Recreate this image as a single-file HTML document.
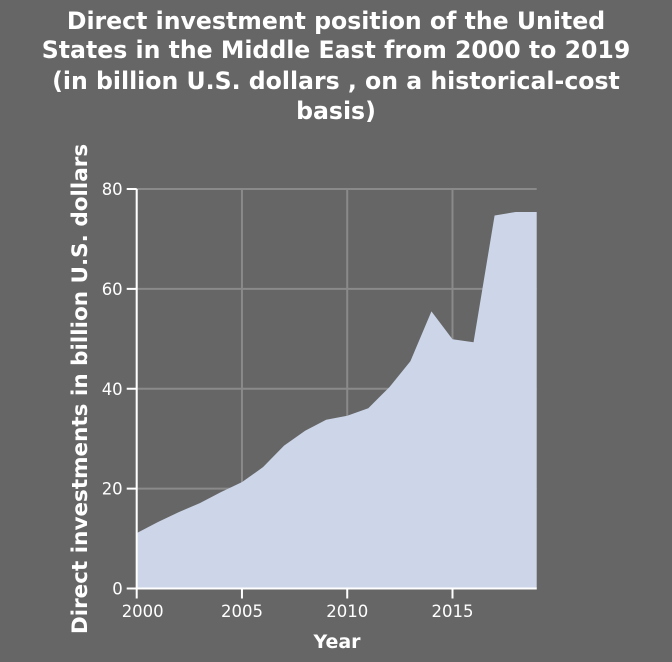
<!DOCTYPE html>
<html><head><meta charset="utf-8"><style>
body{margin:0;background:#666666;}
svg{display:block;font-family:"DejaVu Sans","Liberation Sans",sans-serif;}
</style></head><body>
<svg id="chart" width="672" height="662">
<rect width="672" height="662" fill="#666666"/>
<g fill="#ffffff" font-weight="bold" font-size="23.6" text-anchor="middle">
<text x="336" y="29">Direct investment position of the United</text>
<text x="336" y="58">States in the Middle East from 2000 to 2019</text>
<text x="336" y="89">(in billion U.S. dollars , on a historical-cost</text>
<text x="336" y="119">basis)</text>
</g>
<g id="grid"></g>
<path id="area" fill="#ccd6e8"/>
<g id="axes"></g>
<text x="337" y="648" fill="#ffffff" font-weight="bold" font-size="19" text-anchor="middle">Year</text>
<text transform="translate(87,389) rotate(-90)" fill="#ffffff" font-weight="bold" font-size="21.5" text-anchor="middle">Direct investments in billion U.S. dollars</text>
</svg>
<script>
const years=[2000,2001,2002,2003,2004,2005,2006,2007,2008,2009,2010,2011,2012,2013,2014,2015,2016,2017,2018,2019];
const values=[11.1,13.3,15.3,17.1,19.3,21.3,24.3,28.6,31.6,33.8,34.6,36.1,40.3,45.5,55.5,49.9,49.3,74.7,75.4,75.4];
const xTicks=[2000,2005,2010,2015];
const yTicks=[0,20,40,60,80];
const NS="http://www.w3.org/2000/svg";
const X0=136.7,X1=536.7,Y0=588.5,Y1=189;
const xs=v=>X0+(v-2000)/19*(X1-X0);
const ys=v=>Y0-v/80*(Y0-Y1);
function mk(t,a,p){const e=document.createElementNS(NS,t);for(const k in a)e.setAttribute(k,a[k]);p.appendChild(e);return e;}
const grid=document.getElementById('grid'),axes=document.getElementById('axes');
for(const t of xTicks){
 const l=mk('line',{x1:xs(t),x2:xs(t),y1:Y1,y2:Y0,stroke:'#8a8a8a','stroke-width':2},grid);
 
 
 const tk=mk('line',{x1:xs(t),x2:xs(t),y1:Y0,y2:Y0+10,stroke:'#fff','stroke-width':2},axes);
 
 
 const tx=mk('text',{x:xs(t)+(t==2000?6:0),y:617,fill:'#fff','font-size':16.5,'text-anchor':'middle'},axes);
 tx.textContent=t;
 
 
}
for(const t of yTicks){
 const l=mk('line',{x1:X0,x2:X1,y1:ys(t),y2:ys(t),stroke:'#8a8a8a','stroke-width':2},grid);
 
 
 const tk=mk('line',{x1:X0-10,x2:X0,y1:ys(t),y2:ys(t),stroke:'#fff','stroke-width':2},axes);
 
 
 const tx=mk('text',{x:X0-14,y:ys(t)+6,fill:'#fff','font-size':16.5,'text-anchor':'end'},axes);
 tx.textContent=t;
 
 
}
let d='M'+xs(years[0])+','+ys(0);
years.forEach((y,i)=>{d+=' L'+xs(y)+','+ys(values[i]);});
d+=' L'+xs(years[years.length-1])+','+ys(0)+' Z';
document.getElementById('area').setAttribute('d',d);
const ya=mk('line',{x1:X0,x2:X0,y1:Y1,y2:Y0,stroke:'#fff','stroke-width':2},axes);


const xa=mk('line',{x1:X0,x2:X1,y1:Y0,y2:Y0,stroke:'#fff','stroke-width':2},axes);


</script>
</body></html>
